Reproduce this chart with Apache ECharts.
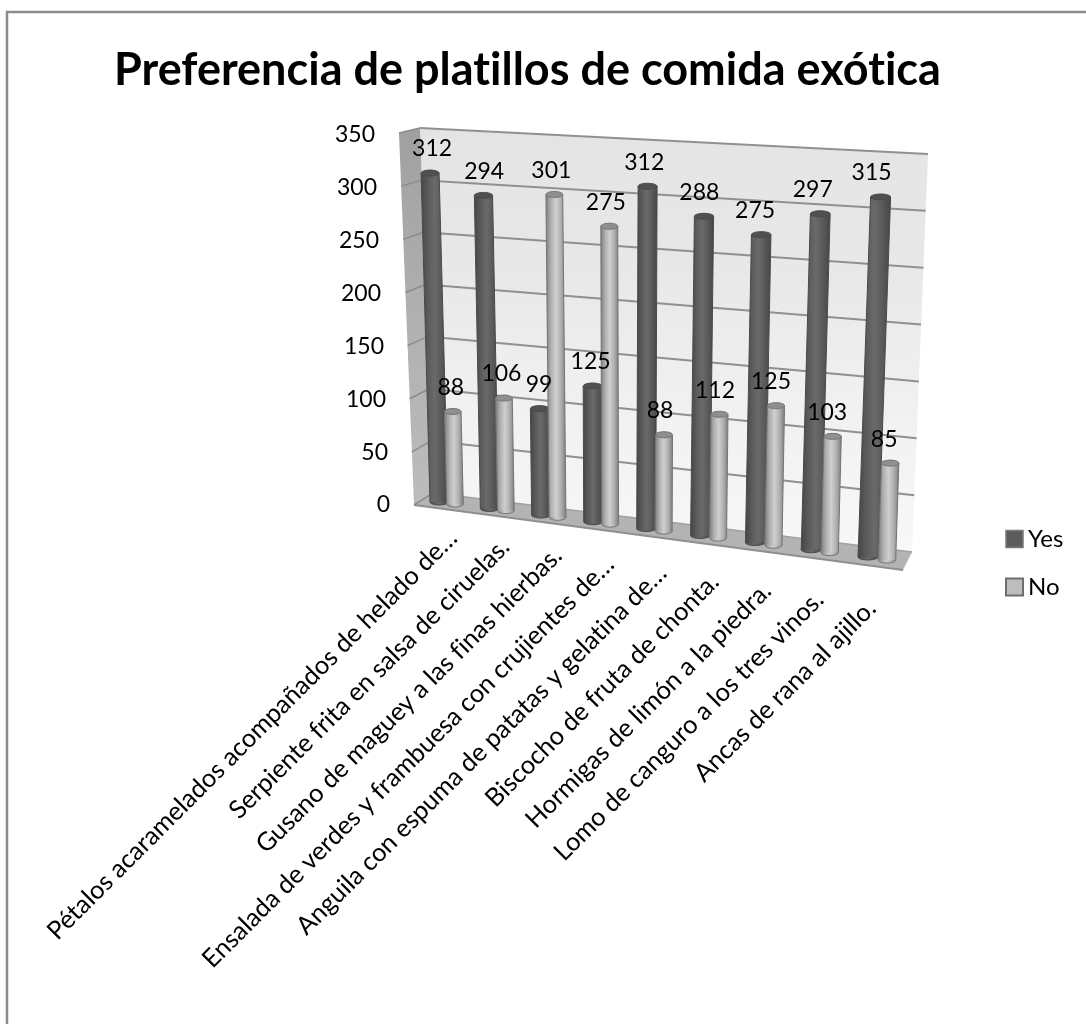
<!DOCTYPE html>
<html><head><meta charset="utf-8">
<style>html,body{margin:0;padding:0;background:#fff}#c{width:1086px;height:1024px}</style>
<script src="https://cdn.jsdelivr.net/npm/echarts@6/dist/echarts.min.js"></script>
</head><body><div id="c"></div>
<script>
const categories = [
  "Pétalos acaramelados acompañados de helado de…",
  "Serpiente frita en salsa de ciruelas.",
  "Gusano de maguey a las finas hierbas.",
  "Ensalada de verdes y frambuesa con crujientes de…",
  "Anguila con espuma de patatas y gelatina de…",
  "Biscocho de fruta de chonta.",
  "Hormigas de limón a la piedra.",
  "Lomo de canguro a los tres vinos.",
  "Ancas de rana al ajillo."
];
const yesValues = [312, 294, 99, 125, 312, 288, 275, 297, 315];
const noValues = [88, 106, 301, 275, 88, 112, 125, 103, 85];
const yTicks = [0, 50, 100, 150, 200, 250, 300, 350];
const titleText = "Preferencia de platillos de comida exótica";

// Perspective of the 3D box: [bottom-left, bottom-right, top-left, top-right]
const backWall = [[433,493],[912,552],[420,128],[928,154]];
const sideWallOuter = [[414,505],[399,133]];
const floorFront = [[414,505],[903,570]];
const yesPlane = [[439,502],[868,557],[429,133],[882,157]];
const noPlane = [[455,504],[887,560],[446,136],[900,161]];
const FONT = 'Lato';
const GRID = {left:422.4, top:135, width:550, height:370};
const labelPadStep = 12.4;
const foreshorten = 0.934;

// Plain Latin ligatures (ti, fi) are not in the reference's type
const nativeFill = CanvasRenderingContext2D.prototype.fillText;
CanvasRenderingContext2D.prototype.fillText = function(){
  this.letterSpacing = '0.01px';
  return nativeFill.apply(this, arguments);
};

function bilerp(c, u, v){
  const bx = c[0][0]+(c[1][0]-c[0][0])*u, by = c[0][1]+(c[1][1]-c[0][1])*u;
  const tx = c[2][0]+(c[3][0]-c[2][0])*u, ty = c[2][1]+(c[3][1]-c[2][1])*u;
  return [bx+(tx-bx)*v, by+(ty-by)*v];
}
function vNorm(api, value){
  return (GRID.top+GRID.height-api.coord([0,value])[1])/GRID.height;
}
function iNorm(api, idx){
  const first = api.coord([0,0])[0], last = api.coord([categories.length-1,0])[0];
  const u = (api.coord([idx,0])[0]-first)/(last-first);
  return foreshorten*u/(1-(1-foreshorten)*u);
}
function linGrad(stops, vertical){
  return {type:'linear',x:0,y:0,x2:vertical?0:1,y2:vertical?1:0,
    colorStops:stops.map((c,i)=>({offset:i/(stops.length-1),color:c}))};
}
const lerp=(a,b,t)=>a+(b-a)*t;

function renderWall(params, api){
  if(params.dataIndex!==0) return null;
  const kids=[];
  const bl=backWall[0],br=backWall[1],tl=backWall[2],tr=backWall[3];
  kids.push({type:'polygon',shape:{points:[bl,br,tr,tl]},
    style:{fill:linGrad(['#e4e4e4','#e8e8e8','#f1f1f1','#f8f8f8'],true)}});
  kids.push({type:'polygon',shape:{points:[sideWallOuter[0],bl,tl,sideWallOuter[1]]},
    style:{fill:linGrad(['#a0a0a0','#b0b0b0','#bcbcbc'],true)}});
  kids.push({type:'polygon',shape:{points:[floorFront[0],floorFront[1],br,bl]},
    style:{fill:'#b3b3b3'}});
  kids.push({type:'polyline',shape:{points:[floorFront[0],floorFront[1]]},
    style:{stroke:'#8f8f8f',lineWidth:2,fill:null}});
  kids.push({type:'polyline',shape:{points:[bl,br]},style:{stroke:'#a0a0a0',lineWidth:1.5,fill:null}});
  yTicks.forEach(t=>{
    const v=vNorm(api,t);
    const a=[lerp(bl[0],tl[0],v),lerp(bl[1],tl[1],v)];
    const b=[lerp(br[0],tr[0],v),lerp(br[1],tr[1],v)];
    const o=[lerp(sideWallOuter[0][0],sideWallOuter[1][0],v),lerp(sideWallOuter[0][1],sideWallOuter[1][1],v)];
    if(t>0){
      kids.push({type:'polyline',shape:{points:[a,b]},style:{stroke:'#909090',lineWidth:2,fill:null}});
    }
    kids.push({type:'polyline',shape:{points:[o,a]},style:{stroke:'#8c8c8c',lineWidth:1.5,fill:null}});
  });
  return {type:'group',children:kids};
}

function makeBars(plane, halfW0, halfW1, body, capFill, stroke, dx0, dx1){
  return function(params, api){
    const i=api.value(0), val=api.value(1);
    const u=iNorm(api,i), hw=lerp(halfW0,halfW1,u), ry=3;
    const b=bilerp(plane,u,0), t=bilerp(plane,u,vNorm(api,val));
    const grad=linGrad(body);
    return {type:'group',children:[
      {type:'ellipse',shape:{cx:b[0],cy:b[1],rx:hw,ry:ry},style:{fill:grad,stroke:stroke,lineWidth:1}},
      {type:'polygon',shape:{points:[[b[0]-hw,b[1]],[b[0]+hw,b[1]],[t[0]+hw,t[1]],[t[0]-hw,t[1]]]},
        style:{fill:grad}},
      {type:'polyline',shape:{points:[[b[0]-hw,b[1]],[t[0]-hw,t[1]]]},style:{stroke:stroke,lineWidth:1,fill:null}},
      {type:'polyline',shape:{points:[[b[0]+hw,b[1]],[t[0]+hw,t[1]]]},style:{stroke:stroke,lineWidth:1,fill:null}},
      {type:'ellipse',shape:{cx:t[0],cy:t[1],rx:hw,ry:ry},style:{fill:capFill,stroke:stroke,lineWidth:1}},
      {type:'text',z2:100,style:{x:t[0]+lerp(dx0,dx1,u),y:t[1]-24,text:String(val),fill:'#000',
        font:'23px '+FONT,textAlign:'center',textVerticalAlign:'middle'}}
    ]};
  };
}
const idx=a=>a.map((v,i)=>[i,v]);
const tickPad=t=>Math.round((t/350)*15);

const rich={};
yTicks.forEach(t=>{rich['t'+t]={fontFamily:FONT,fontSize:23,color:'#000',padding:[0,tickPad(t),0,0]};});
const catRich={};
categories.forEach((c,i)=>{catRich['c'+i]={fontFamily:FONT,fontSize:25.4,color:'#000',padding:[0,i*labelPadStep,0,0]};});

const chart=echarts.init(document.getElementById('c'),null,{renderer:'canvas'});
chart.setOption({
  animation:false,
  backgroundColor:'#fff',
  title:{text:titleText,left:109,top:43,textStyle:{fontFamily:FONT,fontWeight:'bold',fontSize:45,color:'#000'}},
  legend:{orient:'vertical',left:1005,top:527,padding:0,itemWidth:17,itemHeight:17,itemGap:24,icon:'rect',
    textStyle:{fontFamily:FONT,fontSize:24,color:'#000'},
    data:[
      {name:'Yes',itemStyle:{color:'#5c5c5c',borderColor:'#7a7a7a',borderWidth:1.5}},
      {name:'No',itemStyle:{color:'#bdbdbd',borderColor:'#6e6e6e',borderWidth:2}}
    ]},
  grid:GRID,
  xAxis:{type:'category',data:categories,axisLine:{show:false},axisTick:{show:false},splitLine:{show:false},
    axisLabel:{interval:0,rotate:45,margin:29,hideOverlap:false,
      formatter:(v,i)=>`{c${i}|${v}}`,rich:catRich}},
  yAxis:{type:'value',min:0,max:350,interval:50,axisLine:{show:false},axisTick:{show:false},splitLine:{show:false},
    axisLabel:{margin:32.4,formatter:v=>`{t${v}|${v}}`,rich:rich}},
  graphic:[{type:'polyline',silent:true,shape:{points:[[7,1024],[7,12],[1086,12]]},
    style:{stroke:'#8c8c8c',lineWidth:2.5,fill:null}}],
  series:[
    {type:'custom',name:'wall',data:yTicks.map((t,i)=>[i,t]),renderItem:renderWall,silent:true,z:1,clip:false,
     encode:{x:0,y:1},tooltip:{show:false}},
    {type:'custom',name:'Yes',data:idx(yesValues),z:2,clip:false,encode:{x:0,y:1},
     itemStyle:{color:'#5c5c5c'},
     renderItem:makeBars(yesPlane,9,10,['#464646','#5a5a5a','#6a6a6a','#5a5a5a','#464646'],'#505050','#4a4a4a',2,-9)},
    {type:'custom',name:'No',data:idx(noValues),z:2,clip:false,encode:{x:0,y:1},
     itemStyle:{color:'#bdbdbd'},
     renderItem:makeBars(noPlane,8.3,8.7,['#7e7e7e','#b0b0b0','#cfcfcf','#b0b0b0','#7e7e7e'],'#8f8f8f','#747474',-2,-6)}
  ]
});
</script></body></html>
